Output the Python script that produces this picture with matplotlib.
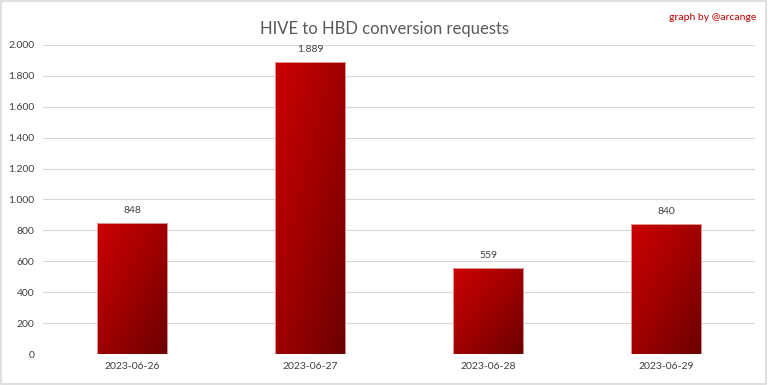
import numpy as np
import matplotlib
matplotlib.use('Agg')
import matplotlib.pyplot as plt
from matplotlib.patches import Rectangle
from matplotlib.colors import LinearSegmentedColormap

dates = ['2023-06-26', '2023-06-27', '2023-06-28', '2023-06-29']
requests = [848, 1889, 559, 840]
yticks = [0, 200, 400, 600, 800, 1000, 1200, 1400, 1600, 1800, 2000]

def fmt(v):
    return '{:,}'.format(v).replace(',', '.')

plt.rcParams['font.family'] = ['Lato', 'DejaVu Sans']

fig = plt.figure(figsize=(7.68, 3.85), dpi=100)
ax = fig.add_axes([0.056, 0.0805, 0.927, 0.803])

grad = LinearSegmentedColormap.from_list('redgrad', ['#cc0000', '#a00000', '#6a0000'])
gx, gy = np.meshgrid(np.linspace(0, 1, 100), np.linspace(0, 1, 100))
gimg = (gx + gy) / 2  # row 0 = top: top-left bright -> bottom-right dark

width = 0.395
for i, v in enumerate(requests):
    r = Rectangle((i - width/2, 0), width, v, facecolor='none', edgecolor='#e8b0b0', linewidth=0.6, zorder=3)
    ax.add_patch(r)
    im = ax.imshow(gimg, cmap=grad, origin='upper', extent=[i - width/2, i + width/2, 0, v],
                   aspect='auto', zorder=2, interpolation='bilinear')
    im.set_clip_path(r)
    ax.text(i, v + 50, fmt(v), ha='center', va='bottom', fontsize=7.5, color='#404040')

ax.set_xlim(-0.5, 3.5)
ax.set_ylim(0, 2000)
ax.set_xticks(range(len(dates)))
ax.set_xticklabels(dates, fontsize=7.5, color='#404040')
ax.set_yticks(yticks)
ax.set_yticklabels([fmt(t) for t in yticks], fontsize=7.5, color='#404040')
ax.tick_params(length=0, pad=6)
ax.grid(axis='y', color='#d9d9d9', linewidth=0.8, zorder=0)
ax.set_axisbelow(True)
for s in ax.spines.values():
    s.set_visible(False)

fig.text(0.5, 0.905, 'HIVE to HBD conversion requests', ha='center', va='bottom', fontsize=12, color='#595959')
fig.text(0.985, 0.955, 'graph by @arcange', ha='right', va='center', fontsize=7.5, color='#c00000')
fig.patches.append(Rectangle((0.001, 0.002), 0.997, 0.995, transform=fig.transFigure, fill=False, edgecolor='#d9d9d9', linewidth=1.2))

fig.savefig('out.png', dpi=100)
